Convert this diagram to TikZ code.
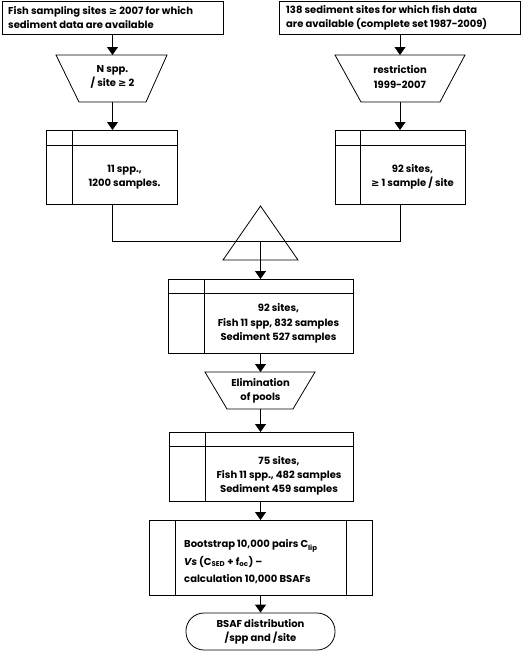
\documentclass[tikz,border=0pt]{standalone}
\usepackage{fontspec}
\setmainfont{Poppins}[BoldFont=* Bold, ItalicFont=* Italic, BoldItalicFont=* Bold Italic]
\newfontfamily\symf{DejaVu Sans}
\usetikzlibrary{arrows.meta}
\newcommand{\mygeq}{{\symf\bfseries ≥}}
\begin{document}
\begin{tikzpicture}[x=1pt,y=-1pt,
  ln/.style={line width=0.8pt},
  arr/.style={ln,-{Triangle[width=11pt,length=8pt]}},
  txt/.style={font=\fontsize{10}{14.2}\selectfont\bfseries, inner sep=0pt},
]
\useasboundingbox (0,0) rectangle (521,651);
% top boxes
\draw[ln] (2,1) rectangle (223,34);
\node[txt,align=left,anchor=west] (a) at (8,17.5) {Fish sampling sites \mygeq{} 2007 for which\\sediment data are available};
\draw[ln] (279,1) rectangle (520,34);
\node[txt,align=left,anchor=west] (b) at (286,17.5) {138 sediment sites for which fish data\\are available (complete set 1987-2009)};
\coordinate (aB) at (112.5,34);
\coordinate (bB) at (400,34);
% trapezoids
\draw[ln] (56,55) -- (167,55) -- (146,102) -- (79,102) -- cycle;
\node[txt,align=center] (t1) at (112.5,77) {N spp.\\/ site \mygeq{} 2};
\coordinate (t1T) at (112.5,55); \coordinate (t1B) at (112.5,102);
\draw[ln] (335,55) -- (465,55) -- (440,102) -- (361,102) -- cycle;
\node[txt,align=center] (t2) at (400,77) {restriction\\1999-2007};
\coordinate (t2T) at (400,55); \coordinate (t2B) at (400,102);
\draw[arr] (aB) -- (t1T);
\draw[arr] (bB) -- (t2T);
% header boxes
\draw[ln] (46,130) rectangle (177,204); \draw[ln] (46,145) -- (177,145); \draw[ln] (72,130) -- (72,204);
\node[txt,align=center] (c1) at (124.5,177) {11 spp.,\\1200 samples.};
\coordinate (c1T) at (112.5,130); \coordinate (c1B) at (112.5,204);
\draw[ln] (335,130) rectangle (465,204); \draw[ln] (335,145) -- (465,145); \draw[ln] (360,130) -- (360,204);
\node[txt,align=center] (c2) at (412.5,177) {92 sites,\\\mygeq{} 1 sample / site};
\coordinate (c2T) at (400,130); \coordinate (c2B) at (400,204);
\draw[arr] (t1B) -- (c1T);
\draw[arr] (t2B) -- (c2T);
% merge
\coordinate (jl) at (112.5,241); \coordinate (jr) at (400,241); \coordinate (jm) at (260.5,241);
\draw[ln] (c1B) -- (jl) -- (jr) -- (c2B);
\draw[ln] (260.5,206) -- (298,260) -- (223,260) -- cycle;
% box 3
\draw[ln] (168,279) rectangle (353,353); \draw[ln] (168,293) -- (353,293); \draw[ln] (204,279) -- (204,353);
\node[txt,align=center] (d) at (278.5,323.5) {92 sites,\\Fish 11 spp, 832 samples\\Sediment 527 samples};
\coordinate (dT) at (260.5,279); \coordinate (dB) at (260.5,353);
\draw[arr] (jm) -- (dT);
% trapezoid 2
\draw[ln] (205,372) -- (315,372) -- (293,409) -- (227,409) -- cycle;
\node[txt,align=center] (e) at (260.5,391) {Elimination\\of pools};
\coordinate (eT) at (260.5,372); \coordinate (eB) at (260.5,409);
\draw[arr] (dB) -- (eT);
% box 4
\draw[ln] (169,432) rectangle (353,501); \draw[ln] (169,446) -- (353,446); \draw[ln] (205,432) -- (205,501);
\node[txt,align=center] (f) at (279,476) {75 sites,\\Fish 11 spp., 482 samples\\Sediment 459 samples};
\coordinate (fT) at (260.5,432); \coordinate (fB) at (260.5,501);
\draw[arr] (eB) -- (fT);
% box 5
\draw[ln] (149,520) rectangle (372,595); \draw[ln] (175,520) -- (175,595); \draw[ln] (346,520) -- (346,595);
\node[txt,align=left,anchor=west,font=\fontsize{10}{17.5}\selectfont\bfseries] (g) at (184,562) {Bootstrap 10,000 pairs C\textsubscript{lip}\\\textit{Vs} (C\textsubscript{SED} + f\textsubscript{oc}) –\\calculation 10,000 BSAFs};
\coordinate (gT) at (260.5,520); \coordinate (gB) at (260.5,595);
\draw[arr] (fB) -- (gT);
% terminal
\node[ln,draw,rounded corners=18pt,minimum width=149pt,minimum height=37pt,txt,align=center] (h) at (260.5,631.5) {BSAF distribution\\/spp and /site};
\draw[arr] (gB) -- (h.north);
\end{tikzpicture}
\end{document}
